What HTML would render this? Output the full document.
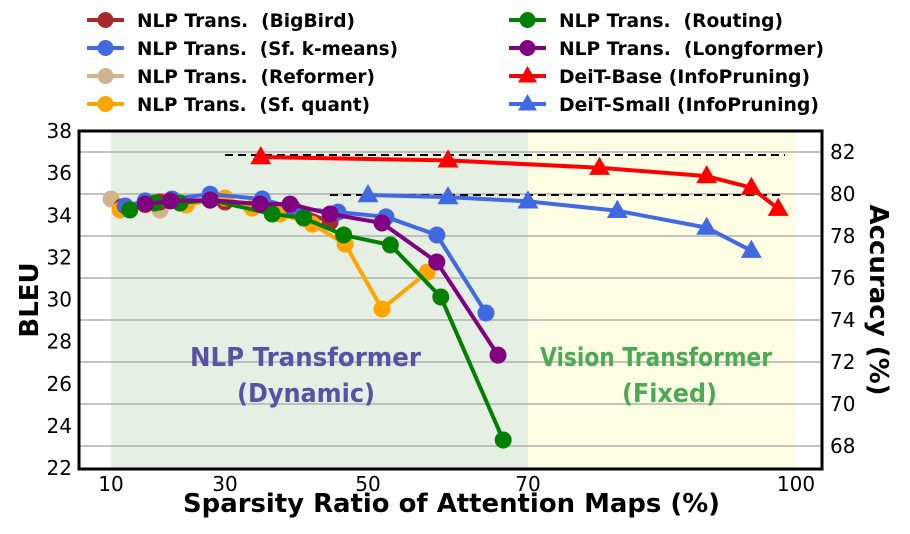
<!DOCTYPE html>
<html><head><meta charset="utf-8"><style>
body{margin:0;background:#fff;}
svg text{font-family:"DejaVu Sans","Liberation Sans",sans-serif;font-weight:bold;}
</style></head><body>
<svg id="chart" width="910" height="529" viewBox="0 0 910 529" xmlns="http://www.w3.org/2000/svg">
<rect x="111" y="131" width="417" height="338" fill="#e5efe3"/>
<rect x="528" y="131" width="268" height="338" fill="#fdfde3"/>
<g id="grid"></g>
<text x="190" y="366" font-size="26" fill="#5a50a8" textLength="231" lengthAdjust="spacingAndGlyphs">NLP Transformer</text>
<text x="237" y="402" font-size="26" fill="#5a50a8" textLength="138" lengthAdjust="spacingAndGlyphs">(Dynamic)</text>
<text x="540" y="366" font-size="26" fill="#4caa55" textLength="232" lengthAdjust="spacingAndGlyphs">Vision Transformer</text>
<text x="622" y="402" font-size="26" fill="#4caa55" textLength="95" lengthAdjust="spacingAndGlyphs">(Fixed)</text>
<line x1="225" y1="155" x2="785" y2="155" stroke="#000" stroke-width="2" stroke-dasharray="8,5"/>
<line x1="330" y1="195" x2="785" y2="195" stroke="#000" stroke-width="2" stroke-dasharray="8,5"/>
<g id="series"></g>
<rect x="79" y="131" width="743" height="338" fill="none" stroke="#000" stroke-width="3"/>
<g id="axes"></g>
<text x="183" y="512" font-size="26" textLength="537" lengthAdjust="spacingAndGlyphs">Sparsity Ratio of Attention Maps (%)</text>
<text transform="translate(38,300) rotate(-90)" font-size="26" text-anchor="middle">BLEU</text>
<text transform="translate(870,300) rotate(90)" font-size="26" text-anchor="middle">Accuracy (%)</text>
<g id="legend"></g>
</svg>
<script>
const xTicks=[10,30,50,70,100];
const leftTicks=[22,24,26,28,30,32,34,36,38];
const rightTicks=[68,70,72,74,76,78,80,82];
const bigbirdX=[11.9,18.6,30,39.1,44.7];
const bigbirdY=[34.4,34.63,34.63,34.44,33.68];
const kmeansX=[12.5,16,20.7,27.4,35.2,39.5,45.8,52.25,58.6,64.75];
const kmeansY=[34.44,34.68,34.77,35.0,34.77,34.34,34.15,33.92,33.06,29.36];
const reformerX=[10,18.6];
const reformerY=[34.77,34.25];
const quantX=[11.6,16,23.2,30,33.8,37.7,42.2,46.8,51.75,57.4];
const quantY=[34.25,34.49,34.49,34.82,34.34,34.06,33.58,32.63,29.55,31.3];
const routingX=[13.3,17.7,22.1,27.4,36.6,41,46.6,52.8,59.1,66.9];
const routingY=[34.25,34.58,34.58,34.72,34.06,33.87,33.06,32.59,30.12,23.33];
const longX=[16,20.4,27.4,34.9,39.1,44.7,51.75,58.6,66.25];
const longY=[34.53,34.68,34.72,34.53,34.53,34.06,33.63,31.78,27.36];
const baseX=[35,60,78,90,95,98];
const baseAcc=[81.76,81.6,81.25,80.85,80.3,79.3];
const smallX=[50,60,70,80,90,95];
const smallAcc=[79.95,79.85,79.65,79.2,78.4,77.3];

const NS="http://www.w3.org/2000/svg";
const xPx=[111,225,368,528,796];
function X(v){for(let i=0;i<xTicks.length-1;i++){if(v<=xTicks[i+1]||i==xTicks.length-2){return xPx[i]+(v-xTicks[i])*(xPx[i+1]-xPx[i])/(xTicks[i+1]-xTicks[i]);}}}
function YL(v){return 131+(38-v)*(468-131)/16;}
function YR(v){return 152+(82-v)*21;}
function mk(t,a,p){const e=document.createElementNS(NS,t);for(const k in a)e.setAttribute(k,a[k]);(p||document.getElementById('series')).appendChild(e);return e;}
const grid=document.getElementById('grid');
rightTicks.forEach(t=>{const l=mk('line',{x1:79,x2:822,y1:YR(t),y2:YR(t),stroke:'#b0b0b0','stroke-width':1.5},grid);

});
const ax=document.getElementById('axes');
xTicks.forEach(t=>{const e=mk('text',{x:X(t),y:491,'font-size':20,'text-anchor':'middle',style:'font-weight:normal'},ax);e.textContent=t;

});
leftTicks.forEach(t=>{const e=mk('text',{x:72,y:YL(t)+7,'font-size':20,'text-anchor':'end',style:'font-weight:normal'},ax);e.textContent=t;

});
rightTicks.forEach(t=>{const e=mk('text',{x:830,y:YR(t)+7,'font-size':20,style:'font-weight:normal'},ax);e.textContent=t;

});
function tri(cx,cy,s){return `${cx},${cy-s} ${cx-s*0.95},${cy+s*0.65} ${cx+s*0.95},${cy+s*0.65}`;}
function series(xs,ys,yf,col,name,marker){
const g=mk('g',{});


const pts=xs.map((x,i)=>X(x)+','+yf(ys[i])).join(' ');
mk('polyline',{points:pts,fill:'none',stroke:col,'stroke-width':4,'stroke-linejoin':'round'},g);
xs.forEach((x,i)=>{let m;if(marker=='tri')m=mk('polygon',{points:tri(X(x),yf(ys[i]),11),fill:col},g);else m=mk('circle',{cx:X(x),cy:yf(ys[i]),r:8.5,fill:col},g);

});}
series(reformerX,reformerY,YL,'#d2b48c','reformer-series','c');
series(bigbirdX,bigbirdY,YL,'#a52a2a','bigbird-series','c');
series(quantX,quantY,YL,'#ffa500','sf-quant-series','c');
series(kmeansX,kmeansY,YL,'#4169e1','sf-kmeans-series','c');
series(routingX,routingY,YL,'#008000','routing-series','c');
series(longX,longY,YL,'#800080','longformer-series','c');
series(baseX,baseAcc,YR,'#ff0000','deit-base-series','tri');
series(smallX,smallAcc,YR,'#4169e1','deit-small-series','tri');
const leg=[['NLP Trans.  (BigBird)','#a52a2a','c',87,20,218],['NLP Trans.  (Sf. k-means)','#4169e1','c',87,48,261],['NLP Trans.  (Reformer)','#d2b48c','c',87,76,238],['NLP Trans.  (Sf. quant)','#ffa500','c',87,104,233],
['NLP Trans.  (Routing)','#008000','c',509,20,224],['NLP Trans.  (Longformer)','#800080','c',509,48,265],['DeiT-Base (InfoPruning)','#ff0000','t',509,76,251],['DeiT-Small (InfoPruning)','#4169e1','t',509,104,260]];
const lg=document.getElementById('legend');
leg.forEach(l=>{const g=mk('g',{},lg);


mk('line',{x1:l[3],x2:l[3]+37,y1:l[4],y2:l[4],stroke:l[1],'stroke-width':4},g);
if(l[2]=='c')mk('circle',{cx:l[3]+18.5,cy:l[4],r:8,fill:l[1]},g);else mk('polygon',{points:tri(l[3]+18.5,l[4],10),fill:l[1]},g);
const t=mk('text',{x:l[3]+50,y:l[4]+7,'font-size':19,textLength:l[5],lengthAdjust:'spacingAndGlyphs',style:'white-space:pre','xml:space':'preserve'},g);t.textContent=l[0];});
</script>
</body></html>
